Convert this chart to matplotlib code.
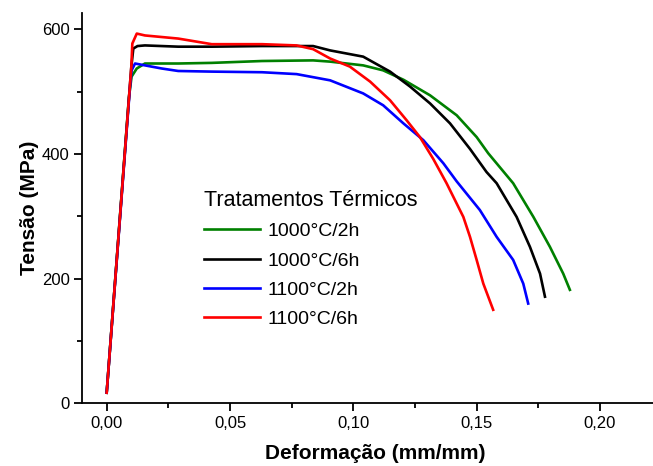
import matplotlib
matplotlib.use('Agg')
import matplotlib.pyplot as plt
from matplotlib.ticker import MultipleLocator, FuncFormatter

# curvas tensao x deformacao
strain_1000_2h = [0.0, 0.0090, 0.0101, 0.0122, 0.0155, 0.029, 0.0426, 0.063, 0.0837, 0.0906, 0.104,
                  0.1121, 0.1203, 0.1311, 0.1419, 0.150, 0.1547, 0.1648, 0.173, 0.1797, 0.1851, 0.1878]
stress_1000_2h = [17, 490, 524, 537, 545, 545, 546, 549, 550, 548, 542,
                  534, 519, 494, 462, 427, 401, 353, 299, 251, 208, 182]

strain_1000_6h = [0.0, 0.0100, 0.0108, 0.0125, 0.0155, 0.029, 0.0426, 0.063, 0.0837, 0.0906, 0.104,
                  0.1149, 0.123, 0.1311, 0.1392, 0.1473, 0.154, 0.1581, 0.1662, 0.1716, 0.1757, 0.1777]
stress_1000_6h = [17, 540, 569, 573, 574, 572, 572, 573, 573, 566, 556,
                  532, 508, 481, 449, 408, 371, 353, 299, 251, 208, 171]

strain_1100_2h = [0.0, 0.0095, 0.0101, 0.0115, 0.0155, 0.0223, 0.029, 0.0426, 0.063, 0.077, 0.0906,
                  0.104, 0.1121, 0.1203, 0.1284, 0.1365, 0.1419, 0.1513, 0.1581, 0.1648, 0.1689, 0.1709]
stress_1100_2h = [17, 510, 534, 545, 542, 537, 533, 532, 531, 528, 518,
                  497, 478, 449, 422, 385, 356, 310, 267, 230, 192, 160]

strain_1100_6h = [0.0, 0.0100, 0.0104, 0.0122, 0.0155, 0.029, 0.0426, 0.063, 0.077, 0.0837, 0.0906,
                  0.0986, 0.1068, 0.1149, 0.1216, 0.127, 0.1324, 0.1378, 0.1446, 0.1473, 0.150,
                  0.1527, 0.1567]
stress_1100_6h = [17, 540, 577, 593, 590, 585, 576, 576, 574, 568, 553,
                  540, 516, 486, 454, 427, 392, 353, 299, 267, 230,
                  192, 150]

labels = ['1000°C/2h', '1000°C/6h', '1100°C/2h', '1100°C/6h']
colors = ['#008000', 'black', 'blue', 'red']

plt.rcParams['font.family'] = ['Liberation Sans', 'DejaVu Sans']

fig = plt.figure(figsize=(6.53, 4.66), dpi=100)
ax = fig.add_axes([0.1256, 0.1345, 0.8744, 0.8376])

series = [(strain_1000_2h, stress_1000_2h), (strain_1000_6h, stress_1000_6h),
          (strain_1100_2h, stress_1100_2h), (strain_1100_6h, stress_1100_6h)]
for (x, y), lab, c in zip(series, labels, colors):
    ax.plot(x, y, color=c, lw=1.9, label=lab)

ax.set_xlim(-0.010, 0.2215)
ax.set_ylim(0, 626)
ax.spines['top'].set_visible(False)
ax.spines['right'].set_visible(False)
ax.spines['left'].set_linewidth(1.3)
ax.spines['bottom'].set_linewidth(1.3)

ax.xaxis.set_major_locator(MultipleLocator(0.05))
ax.xaxis.set_minor_locator(MultipleLocator(0.025))
ax.yaxis.set_major_locator(MultipleLocator(200))
ax.yaxis.set_minor_locator(MultipleLocator(100))
ax.xaxis.set_major_formatter(FuncFormatter(lambda v, p: ('%.2f' % v).replace('.', ',')))
ax.tick_params(which='major', direction='out', length=6, width=1.3, labelsize=12, pad=3)
ax.tick_params(which='minor', direction='out', length=3.5, width=1.3)

ax.set_xlabel('Deformação (mm/mm)', fontsize=15, fontweight='bold', labelpad=7)
ax.xaxis.set_label_coords(0.514, -0.105)
ax.set_ylabel('Tensão (MPa)', fontsize=15, fontweight='bold', labelpad=2)

leg = ax.legend(title='Tratamentos Térmicos', frameon=False, fontsize=14, title_fontsize=15.5,
                loc='upper left', bbox_to_anchor=(204 / 653, 1 - 190 / 466),
                bbox_transform=fig.transFigure, borderpad=0, borderaxespad=0,
                handlelength=2.9, handletextpad=0.35, labelspacing=0.6, alignment='left')

fig.savefig('out.png', dpi=100)
